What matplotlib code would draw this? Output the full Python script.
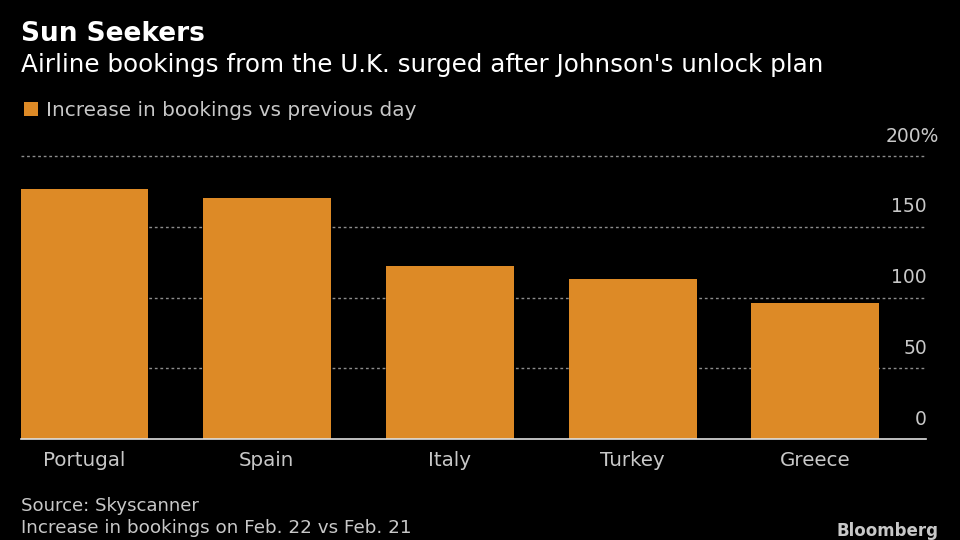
import numpy as np
import matplotlib.pyplot as plt

countries = ["Portugal", "Spain", "Italy", "Turkey", "Greece"]
increase = [176.5, 170, 122, 113, 96]
ticks = [0, 50, 100, 150, 200]
tick_labels = ["0", "50", "100", "150", "200%"]

W, H = 960, 540
orange = "#DD8A26"
grey = "#C8C8C8"

fig = plt.figure(figsize=(9.6, 5.4), dpi=100, facecolor="black")
# axes box in pixels, left 21 right 926, y=0 at 439, y=200 at 156
ax = fig.add_axes([21 / W, 1 - 439 / H, (926 - 21) / W, (439 - 156) / H], facecolor="black")

x = np.arange(len(countries))
ax.bar(x, increase, width=0.7, color=orange, zorder=3)
ax.set_xlim(-0.345, 4.605)
ax.set_ylim(0, 200)

for s in ["top", "left", "right"]:
    ax.spines[s].set_visible(False)
ax.spines["bottom"].set_color("#E0E0E0")
ax.spines["bottom"].set_linewidth(1.2)
ax.spines["bottom"].set_zorder(4)

# gridlines, not the one at zero
for t in ticks[1:]:
    ax.axhline(t, color="#8C8C8C", lw=1, ls=(0, (2, 2)), zorder=1, clip_on=False)

ax.set_xticks(x)
ax.set_xticklabels(countries, fontsize=14.3, color=grey)
ax.tick_params(axis="x", length=0, pad=8.5)

ax.yaxis.tick_right()
ax.set_yticks(ticks)
ax.set_yticklabels([])
ax.tick_params(axis="y", length=0)
# labels sit above the gridlines, right aligned to the end of the line
for t, lab in zip(ticks, tick_labels):
    px = 939 if lab.endswith("%") else 927
    ax.annotate(lab, xy=(px / W, 1 - (439 - t * 283 / 200) / H), xycoords="figure fraction",
                xytext=(0, 7.5), textcoords="offset points", ha="right", va="bottom",
                fontsize=13.5, color=grey)

fig.text(21 / W, 1 - 41 / H, "Sun Seekers", fontsize=19, fontweight="bold", color="white", va="baseline")
fig.text(21 / W, 1 - 72 / H, "Airline bookings from the U.K. surged after Johnson's unlock plan",
         fontsize=17.7, color="white", va="baseline")

fig.patches.append(plt.Rectangle((24 / W, 1 - 116 / H), 14 / W, 14 / H, transform=fig.transFigure,
                                 facecolor=orange, edgecolor="none"))
fig.text(46 / W, 1 - 116 / H, "Increase in bookings vs previous day", fontsize=14.4, color=grey, va="baseline")

fig.text(21 / W, 1 - 511 / H, "Source: Skyscanner", fontsize=13.1, color=grey, va="baseline")
fig.text(21 / W, 1 - 533 / H, "Increase in bookings on Feb. 22 vs Feb. 21", fontsize=13.25, color=grey, va="baseline")
fig.text(939 / W, 1 - 535.5 / H, "Bloomberg", fontsize=12, fontweight="bold", color=grey, ha="right", va="baseline")

fig.savefig("out.png", dpi=100, facecolor="black")
